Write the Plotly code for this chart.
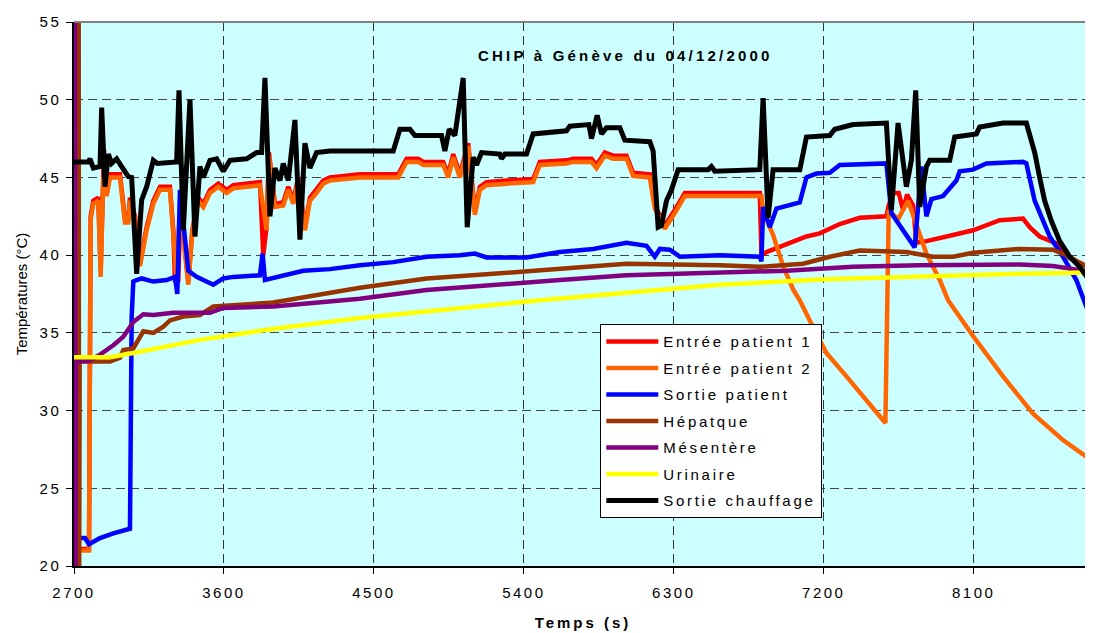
import plotly.graph_objects as go

# temps (s) / températures (°C)
red_t = [2724, 2790, 2800, 2816, 2846, 2860, 2880, 2896, 2916, 2976, 3006, 3026, 3036, 3066, 3096,
         3136, 3176, 3216, 3276, 3296, 3306, 3326, 3336, 3350, 3386, 3410, 3446, 3476, 3516, 3566,
         3616, 3656, 3816, 3836, 3856, 3870, 3906, 3956, 3986, 4016, 4046, 4086, 4116, 4156, 4196,
         4236, 4416, 4646, 4696, 4766, 4796, 4916, 4946, 4976, 5016, 5066, 5106, 5136, 5176, 5296,
         5456, 5496, 5656, 5696, 5806, 5836, 5886, 5936, 6016, 6056, 6156, 6186, 6246, 6306, 6366,
         6816, 6826, 6856, 7016, 7096, 7176, 7296, 7416, 7576, 7590, 7616, 7650, 7676, 7700, 7736,
         7756, 7816, 7976, 8096, 8256, 8396, 8436, 8496, 8596, 8676, 8740, 8806]
red_v = [21.1, 21.1, 42.5, 43.5, 43.7, 39.0, 46.8, 44.0, 45.2, 45.2, 42.3, 42.3, 43.7, 42.5, 39.5,
         41.8, 43.5, 44.4, 44.4, 41.6, 38.4, 38.4, 42.0, 42.0, 38.3, 41.6, 43.7, 43.3, 44.2, 44.6,
         44.2, 44.5, 44.7, 40.0, 41.8, 46.6, 43.3, 43.4, 44.4, 43.5, 45.0, 41.8, 43.7, 44.2, 44.8,
         45.0, 45.2, 45.2, 46.2, 46.2, 46.0, 46.0, 45.2, 46.5, 45.2, 47.2, 42.8, 44.4, 44.7, 44.8,
         44.9, 46.0, 46.1, 46.2, 46.2, 45.8, 46.6, 46.4, 46.4, 45.3, 45.2, 43.2, 41.9, 42.9, 44.0,
         44.0, 40.0, 40.2, 40.9, 41.2, 41.4, 42.0, 42.4, 42.5, 43.2, 44.0, 44.0, 42.9, 43.9, 43.2,
         40.8, 40.9, 41.3, 41.6, 42.25, 42.35, 41.8, 41.2, 40.75, 39.8, 39.5, 39.1]

orange_t = [2736, 2790, 2800, 2816, 2846, 2860, 2876, 2896, 2916, 2976, 3006, 3026, 3036, 3066, 3096,
            3136, 3176, 3216, 3276, 3296, 3316, 3330, 3350, 3386, 3410, 3446, 3476, 3516, 3566, 3616,
            3656, 3816, 3856, 3870, 3906, 3956, 3986, 4016, 4046, 4086, 4116, 4156, 4196, 4236, 4416,
            4646, 4696, 4766, 4796, 4916, 4946, 4976, 5016, 5066, 5106, 5136, 5176, 5296, 5456, 5496,
            5656, 5696, 5806, 5836, 5886, 5936, 6016, 6056, 6156, 6186, 6246, 6306, 6366, 6826, 6836,
            6896, 6956, 7016, 7056, 7116, 7216, 7336, 7456, 7570, 7590, 7646, 7706, 7746, 7816, 7896,
            7946, 8096, 8276, 8456, 8636, 8806]
orange_v = [21.0, 21.0, 42.3, 43.3, 43.5, 38.6, 45.0, 43.8, 45.0, 45.0, 42.1, 42.1, 43.5, 42.3, 39.3,
            41.6, 43.3, 44.2, 44.2, 41.4, 38.4, 41.8, 41.8, 38.1, 41.4, 43.5, 43.1, 44.0, 44.4, 44.0,
            44.3, 44.5, 41.6, 46.4, 43.1, 43.2, 44.2, 43.3, 44.8, 41.6, 43.5, 44.0, 44.6, 44.8, 45.0,
            45.0, 46.0, 46.0, 45.8, 45.8, 45.0, 46.3, 45.0, 47.0, 42.6, 44.2, 44.5, 44.6, 44.7, 45.8,
            45.9, 46.0, 46.0, 45.6, 46.4, 46.2, 46.2, 45.1, 45.0, 43.0, 41.7, 42.7, 43.8, 43.8, 42.8,
            41.3, 39.3, 37.8, 37.1, 35.8, 33.7, 32.2, 30.7, 29.2, 42.9, 42.3, 43.5, 42.3, 40.1, 38.4,
            37.1, 34.8, 32.2, 29.8, 28.1, 26.8]

blue_t = [2730, 2766, 2790, 2856, 2936, 3026, 3036, 3046, 3056, 3076, 3106, 3176, 3256, 3306, 3320,
          3336, 3366, 3386, 3436, 3536, 3596, 3656, 3816, 3832, 3846, 3956, 4076, 4236, 4416, 4616,
          4816, 5016, 5106, 5176, 5416, 5616, 5816, 6016, 6136, 6186, 6216, 6276, 6336, 6576, 6816,
          6826, 6836, 6876, 6916, 7056, 7096, 7156, 7236, 7296, 7576, 7606, 7676, 7746, 7786, 7816,
          7846, 7916, 7996, 8016, 8096, 8176, 8396, 8416, 8466, 8496, 8556, 8636, 8716, 8800]
blue_v = [21.8, 21.8, 21.4, 21.8, 22.1, 22.4, 22.4, 36.0, 38.3, 38.4, 38.5, 38.3, 38.4, 38.6, 37.5,
          44.2, 41.4, 39.0, 38.6, 38.1, 38.5, 38.6, 38.7, 40.1, 38.4, 38.7, 39.0, 39.1, 39.35, 39.55,
          39.9, 40.0, 40.1, 39.85, 39.85, 40.2, 40.4, 40.8, 40.6, 39.9, 40.4, 40.35, 39.9, 40.0, 39.9,
          39.6, 43.1, 41.8, 43.0, 43.4, 45.0, 45.25, 45.3, 45.8, 45.9, 42.7, 41.6, 40.5, 45.7, 42.5,
          43.6, 43.8, 44.8, 45.4, 45.5, 45.9, 46.0, 45.9, 43.5, 42.7, 41.2, 39.9, 38.4, 36.0]

brown_t = [2728, 2730, 2734, 2916, 2976, 2996, 3056, 3116, 3176, 3236, 3276, 3356, 3456, 3536, 3656,
           3896, 4416, 4816, 5216, 5616, 6016, 6576, 6816, 7076, 7236, 7416, 7696, 7856, 7976, 8096,
           8376, 8576, 8676, 8736, 8800, 8806]
brown_v = [60.0, 15.0, 33.15, 33.15, 33.4, 33.9, 34.0, 35.1, 35.0, 35.4, 35.8, 36.05, 36.15, 36.7, 36.8,
           36.95, 37.9, 38.5, 38.8, 39.15, 39.45, 39.35, 39.25, 39.45, 39.9, 40.3, 40.2, 39.9, 39.9, 40.15,
           40.4, 40.35, 39.9, 39.5, 39.15, 15.0]

purple_t = [2706, 2708, 2712, 2790, 2856, 2936, 2996, 3056, 3116, 3176, 3296, 3516, 3596, 3896, 4416,
            4816, 5216, 5616, 6016, 6576, 6976, 7376, 7776, 8376, 8576, 8700, 8806]
purple_v = [60.0, 15.0, 33.15, 33.2, 33.6, 34.2, 34.75, 35.7, 36.2, 36.15, 36.3, 36.3, 36.6, 36.7, 37.2,
            37.75, 38.1, 38.4, 38.7, 38.9, 39.0, 39.25, 39.35, 39.4, 39.3, 39.1, 38.9]

yellow_t = [2700, 2916, 3056, 3456, 3856, 4416, 5496, 6576, 7176, 7776, 8376, 8806]
yellow_v = [33.43, 33.43, 33.7, 34.55, 35.2, 35.95, 37.1, 38.1, 38.43, 38.65, 38.8, 38.9]

black_t = [2700, 2786, 2796, 2816, 2856, 2866, 2886, 2906, 2926, 2956, 2986, 3026, 3046, 3076, 3106,
           3136, 3176, 3200, 3316, 3330, 3356, 3396, 3426, 3456, 3476, 3516, 3556, 3596, 3636, 3736,
           3796, 3826, 3846, 3876, 3906, 3936, 3956, 3986, 4026, 4056, 4086, 4116, 4156, 4236, 4616,
           4656, 4716, 4746, 4906, 4926, 4952, 4986, 5036, 5060, 5096, 5116, 5146, 5256, 5266, 5286,
           5416, 5456, 5656, 5676, 5790, 5806, 5840, 5866, 5896, 5976, 6006, 6156, 6176, 6206, 6226,
           6256, 6286, 6326, 6506, 6526, 6546, 6816, 6836, 6866, 6896, 7056, 7096, 7236, 7266, 7376,
           7576, 7606, 7646, 7696, 7726, 7752, 7776, 7816, 7836, 7956, 7986, 8116, 8136, 8276, 8416,
           8436, 8466, 8496, 8526, 8566, 8616, 8676, 8736, 8806]
black_v = [46.0, 46.0, 46.2, 45.6, 45.7, 49.5, 44.4, 46.5, 45.9, 46.2, 45.7, 45.05, 45.0, 38.8, 43.55,
           44.4, 46.1, 45.9, 46.0, 50.6, 41.6, 50.0, 41.2, 45.7, 45.0, 46.1, 46.2, 45.4, 46.1, 46.2,
           46.6, 46.6, 51.4, 42.5, 45.6, 44.8, 45.9, 44.8, 48.7, 41.0, 47.2, 45.6, 46.6, 46.7, 46.7,
           48.1, 48.1, 47.7, 47.7, 46.7, 48.1, 47.7, 51.4, 41.8, 46.3, 45.8, 46.6, 46.5, 46.2, 46.5,
           46.5, 47.8, 48.0, 48.3, 48.4, 47.5, 49.0, 47.8, 48.2, 48.2, 47.4, 47.3, 46.7, 41.8, 41.9,
           43.5, 44.2, 45.5, 45.5, 45.7, 45.4, 45.5, 50.1, 42.4, 45.5, 45.5, 47.6, 47.7, 48.1, 48.4,
           48.5, 42.9, 48.5, 44.4, 46.1, 50.6, 43.1, 45.7, 46.1, 46.1, 47.6, 47.8, 48.25, 48.5, 48.5,
           47.8, 46.6, 45.0, 43.5, 42.2, 40.9, 39.9, 39.25, 38.2]

series = [
    ("Entrée patient 1", red_t, red_v, "#FF0000", 4.5),
    ("Entrée patient 2", orange_t, orange_v, "#FF6600", 4.5),
    ("Sortie patient", blue_t, blue_v, "#0000FF", 4.5),
    ("Hépatque", brown_t, brown_v, "#993300", 4.5),
    ("Mésentère", purple_t, purple_v, "#800080", 4.5),
    ("Urinaire", yellow_t, yellow_v, "#FFFF00", 4.5),
    ("Sortie chauffage", black_t, black_v, "#000000", 5),
]

x_ticks = [2700, 3600, 4500, 5400, 6300, 7200, 8100]
y_ticks = [20, 25, 30, 35, 40, 45, 50, 55]

FONT = "Liberation Sans, Arial, sans-serif"


def spaced(s, px):
    return f'<span style="letter-spacing:{px}px">{s}</span>'


fig = go.Figure()
for name, t, v, color, w in series:
    fig.add_trace(go.Scatter(
        x=t, y=v, mode="lines", name=spaced(name, 2.7), legendgroup=name,
        line=dict(color=color, width=w),
    ))

# la page a une marge de 8 px : figure réduite d'autant
fig.update_layout(
    width=1085, height=625,
    margin=dict(l=66, r=1, t=14, b=67),
    paper_bgcolor="white",
    plot_bgcolor="#CCFFFF",
    font=dict(family=FONT, color="black", size=15),
    showlegend=True,
    legend=dict(
        x=0.517, y=0.4446, xanchor="left", yanchor="top",
        bgcolor="white", bordercolor="black", borderwidth=1,
        font=dict(family=FONT, size=15),
        itemwidth=52, tracegroupgap=4,
    ),
    annotations=[dict(
        text=spaced("CHIP à Génève du 04/12/2000", 3.2),
        x=0.542, y=0.957, xref="paper", yref="paper",
        showarrow=False, font=dict(family=FONT, size=15, weight="bold"),
    )],
    shapes=[
        dict(type="line", xref="paper", yref="paper", x0=0, x1=1, y0=1, y1=1,
             line=dict(color="#808080", width=2), layer="above"),
        dict(type="line", xref="paper", yref="paper", x0=1, x1=1, y0=0, y1=1,
             line=dict(color="#808080", width=2), layer="below"),
    ],
)

fig.update_xaxes(
    range=[2700, 8810], automargin=False,
    tickvals=x_ticks, ticktext=[spaced(str(v), 2.5) for v in x_ticks],
    ticks="outside", ticklen=6, tickcolor="black", ticklabelstandoff=6,
    showline=True, linecolor="black", linewidth=1.5,
    showgrid=True, gridcolor="#333333", gridwidth=1, griddash="9px,5px",
    zeroline=False,
    title=dict(text=spaced("<b>Temps (s)</b>", 3), font=dict(family=FONT, size=15), standoff=18),
)
fig.update_yaxes(
    range=[20, 55], automargin=False,
    tickvals=y_ticks, ticktext=[spaced(str(v), 2.5) for v in y_ticks],
    ticks="outside", ticklen=6, tickcolor="black", ticklabelstandoff=2,
    showline=True, linecolor="black", linewidth=1.5,
    showgrid=True, gridcolor="#444444", gridwidth=1, griddash="9px,5px",
    zeroline=False,
    title=dict(text="Températures (°C)", font=dict(family=FONT, size=15), standoff=8),
)

fig.write_html("out.html")
